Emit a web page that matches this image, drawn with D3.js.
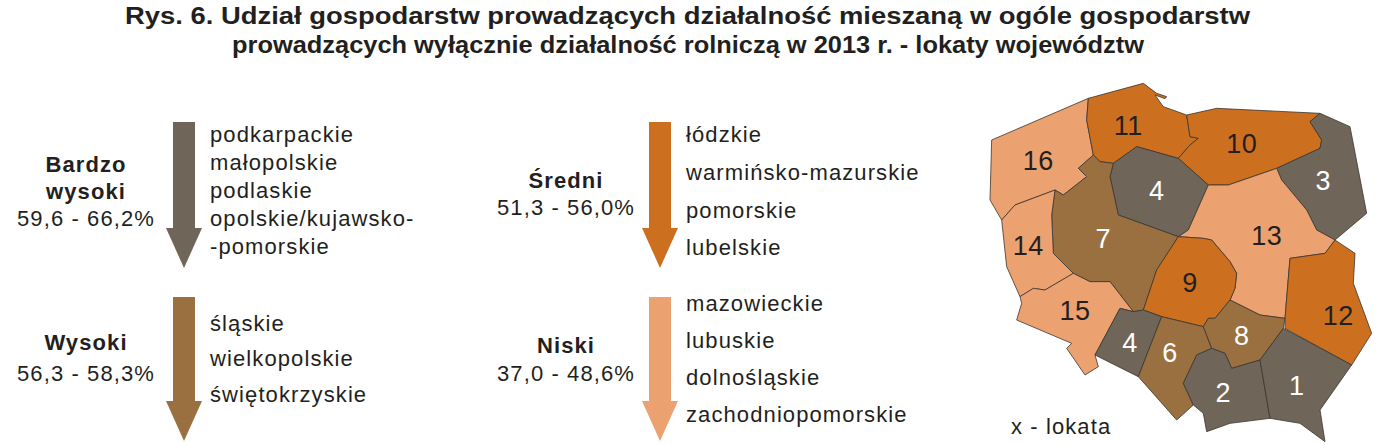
<!DOCTYPE html>
<html><head><meta charset="utf-8">
<script src="https://cdn.jsdelivr.net/npm/d3@7"></script>
<style>body{margin:0;background:#fff}text{font-family:Arial,"Liberation Sans",sans-serif}</style>
</head><body><svg id="c" width="1376" height="445"></svg>
<script>
// klasy: nazwa, przedział, kolor, województwa
var classNames = ["Bardzo\nwysoki", "Wysoki", "Średni", "Niski"];
var classRanges = ["59,6 - 66,2%", "56,3 - 58,3%", "51,3 - 56,0%", "37,0 - 48,6%"];
var classColors = ["#6f6558", "#9a7040", "#cc7020", "#eca171"];
var classLists = [
  ["podkarpackie", "małopolskie", "podlaskie", "opolskie/kujawsko-", "-pomorskie"],
  ["śląskie", "wielkopolskie", "świętokrzyskie"],
  ["łódzkie", "warmińsko-mazurskie", "pomorskie", "lubelskie"],
  ["mazowieckie", "lubuskie", "dolnośląskie", "zachodniopomorskie"]
];
// mapa: lokata, klasa, kształt (układ 0..1160 x 0..1090), pozycja etykiety
var ranks = [16, 11, 10, 3, 4, 7, 14, 15, 13, 9, 12, 4, 6, 8, 2, 1];
var rankClass = [3, 2, 2, 0, 0, 1, 3, 3, 3, 2, 2, 0, 1, 1, 0, 0];
var shapes = [
  [[5,180],[295,55],[290,120],[310,225],[265,265],[290,290],[220,345],[195,330],[75,375],[35,420],[0,360]],
  [[295,55],[460,10],[500,40],[530,50],[525,56],[495,45],[520,80],[590,105],[600,170],[625,175],[600,195],[565,235],[440,200],[370,250],[330,245],[310,225],[290,120]],
  [[590,105],[680,85],[990,100],[960,125],[995,180],[990,205],[860,265],[715,315],[655,315],[565,235],[600,195],[625,175],[600,170]],
  [[990,100],[1080,140],[1130,400],[1035,480],[980,450],[950,390],[875,300],[860,265],[990,205],[995,180],[960,125]],
  [[370,250],[440,200],[565,235],[655,315],[595,450],[565,470],[385,405],[360,290]],
  [[310,225],[330,245],[370,250],[360,290],[385,405],[565,470],[500,570],[460,690],[430,695],[360,605],[300,605],[250,580],[190,520],[185,405],[195,330],[220,345],[290,290],[265,265]],
  [[35,420],[75,375],[195,330],[185,405],[190,520],[250,580],[165,630],[130,625],[90,650],[50,560]],
  [[90,650],[130,625],[165,630],[250,580],[300,605],[360,605],[430,695],[390,685],[315,825],[325,860],[285,885],[230,805],[245,790],[80,720],[95,670]],
  [[655,315],[715,315],[860,265],[875,300],[950,390],[980,450],[1035,480],[1005,520],[900,535],[885,715],[810,705],[720,660],[735,625],[740,580],[720,545],[665,480],[640,475],[565,470],[595,450]],
  [[565,470],[640,475],[665,480],[720,545],[740,580],[735,625],[720,660],[675,715],[655,715],[640,740],[515,710],[460,690],[500,570]],
  [[1035,480],[1095,520],[1090,610],[1145,760],[1085,855],[885,745],[885,715],[900,535],[1005,520]],
  [[390,685],[430,695],[460,690],[515,710],[445,890],[315,825]],
  [[515,710],[640,740],[665,805],[620,825],[580,910],[610,975],[560,1020],[445,890]],
  [[640,740],[655,715],[675,715],[720,660],[810,705],[885,715],[880,745],[810,840],[725,865],[705,820],[665,805]],
  [[665,805],[705,820],[725,865],[810,840],[840,1015],[720,1030],[650,1055],[640,1000],[610,975],[580,910],[620,825]],
  [[810,840],[880,745],[1085,855],[990,990],[1005,1085],[930,1030],[840,1015]]
];
var labelPos = [[145,240],[415,135],[755,190],[1000,300],[500,330],[340,475],[115,495],[255,690],[830,465],[600,605],[1045,705],[420,785],[540,815],[755,765],[700,935],[920,915]];

var svg = d3.select("#c");

// tytuł
svg.append("text").attr("x", 125).attr("y", 24)
  .attr("font-size", 23.5).attr("font-weight", "bold").attr("fill", "#231f20")
  .attr("textLength", 1125).attr("lengthAdjust", "spacingAndGlyphs")
  .text("Rys. 6. Udział gospodarstw prowadzących działalność mieszaną w ogóle gospodarstw");
svg.append("text").attr("x", 232).attr("y", 53)
  .attr("font-size", 23.5).attr("font-weight", "bold").attr("fill", "#231f20")
  .attr("textLength", 912).attr("lengthAdjust", "spacingAndGlyphs")
  .text("prowadzących wyłącznie działalność rolniczą w 2013 r. - lokaty województw");

// panele ze strzałkami
var arrowX = [184, 184, 660, 660];
var arrowTop = [122, 297, 122, 297];
var arrowTip = [268, 441, 268, 441];
var labelX = [86, 86, 566, 566];
var labelY = [[172, 199, 226], [350, 381], [188, 215], [353, 381]];
var listY = [[142, 170, 198, 226, 254], [331, 366, 402], [142, 180, 218, 255], [311, 348, 385, 422]];

function txt(x, y, s, bold, anchor){
  return svg.append("text").attr("x", x).attr("y", y).attr("text-anchor", anchor || "start")
    .attr("font-size", 22).attr("letter-spacing", 1.1).attr("font-weight", bold ? "bold" : "normal")
    .attr("fill", "#231f20").text(s);
}

classNames.forEach(function(name, i){
  var cx = arrowX[i], t = arrowTop[i], tip = arrowTip[i], hs = tip - 40;
  svg.append("path").attr("fill", classColors[i])
    .attr("d", d3.line()([[cx-11,t],[cx+11,t],[cx+11,hs],[cx+18,hs],[cx,tip],[cx-18,hs],[cx-11,hs]]) + "Z");
  var parts = name.split("\n");
  parts.forEach(function(p, k){ txt(labelX[i], labelY[i][k], p, true, "middle"); });
  txt(labelX[i], labelY[i][parts.length], classRanges[i], false, "middle");
  classLists[i].forEach(function(s, k){ txt(cx + 26, listY[i][k], s, false); });
});

// mapa
var mx = d3.scaleLinear().domain([0, 1160]).range([990, 990 + 1160/3]);
var my = d3.scaleLinear().domain([0, 1090]).range([80, 80 + 1090/3]);
var line = d3.line().x(function(d){ return mx(d[0]); }).y(function(d){ return my(d[1]); });
var map = svg.append("g");
shapes.forEach(function(s, i){
  map.append("path").attr("d", line(s) + "Z")
    .attr("fill", classColors[rankClass[i]]).attr("stroke", "#3a3530").attr("stroke-width", 0.8)
    .attr("stroke-linejoin", "round");
});
ranks.forEach(function(r, i){
  var light = rankClass[i] >= 2;
  map.append("text").attr("x", mx(labelPos[i][0])).attr("y", my(labelPos[i][1]) + 10)
    .attr("text-anchor", "middle").attr("font-size", 27).attr("letter-spacing", 0.5)
    .attr("fill", light ? "#231f20" : "#ffffff").text(r);
});
svg.append("text").attr("x", 1011).attr("y", 434).attr("font-size", 22).attr("letter-spacing", 1.1)
  .attr("fill", "#231f20").text("x - lokata");
</script></body></html>
